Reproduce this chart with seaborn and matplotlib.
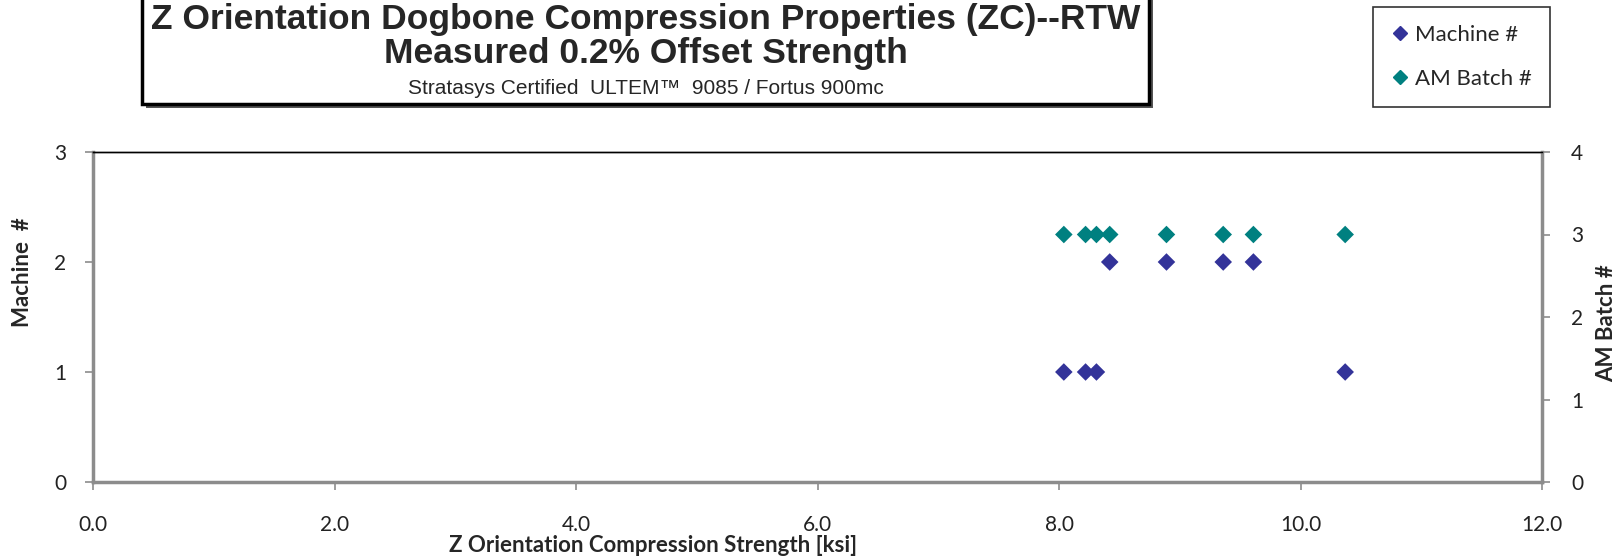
import matplotlib
matplotlib.use("Agg")
import matplotlib.pyplot as plt
from matplotlib.patches import Rectangle
from matplotlib.lines import Line2D
import seaborn as sns
import pandas as pd

# Compression strength [ksi] per specimen with its machine and batch identifiers
strength_ksi = [8.04, 8.22, 8.31, 10.37, 8.42, 8.89, 9.36, 9.61]
machine_no = [1, 1, 1, 1, 2, 2, 2, 2]
batch_strength_ksi = [8.04, 8.22, 8.31, 8.42, 8.89, 9.36, 9.61, 10.37]
batch_no = [3, 3, 3, 3, 3, 3, 3, 3]

x_ticks = [0, 2, 4, 6, 8, 10, 12]
left_ticks = [0, 1, 2, 3]
right_ticks = [0, 1, 2, 3, 4]

machine_color = "#333399"
batch_color = "#008080"
axis_gray = "#8c8c8c"

sns.set_theme(style="white")
plt.rcParams["font.family"] = ["Liberation Sans Narrow", "Liberation Sans", "DejaVu Sans"]

df_m = pd.DataFrame({"strength": strength_ksi, "machine": machine_no})
df_b = pd.DataFrame({"strength": batch_strength_ksi, "batch": batch_no})

W, H = 1619, 560
ax_l, ax_r, ax_t, ax_b = 93, 1542, 152, 482
fig = plt.figure(figsize=(W / 100, H / 100), dpi=100)
ax = fig.add_axes([ax_l / W, 1 - ax_b / H, (ax_r - ax_l) / W, (ax_b - ax_t) / H])
ax2 = ax.twinx()

sns.scatterplot(data=df_m, x="strength", y="machine", ax=ax, marker="D", s=80,
                color=machine_color, edgecolor="none", legend=False, zorder=3)
sns.scatterplot(data=df_b, x="strength", y="batch", ax=ax2, marker="D", s=80,
                color=batch_color, edgecolor="none", legend=False, zorder=3)

ax.set_xlim(0, 12)
ax.set_ylim(0, 3)
ax2.set_ylim(0, 4)
ax.set_xticks(x_ticks)
ax.set_xticklabels([f"{v:.1f}" for v in x_ticks])
ax.set_yticks(left_ticks)
ax2.set_yticks(right_ticks)

for a in (ax, ax2):
    a.grid(False)
    a.set_facecolor("none")
    for side in ("left", "right", "bottom"):
        a.spines[side].set_color(axis_gray)
        a.spines[side].set_linewidth(2.5)
    a.spines["top"].set_color("black")
    a.spines["top"].set_linewidth(1.0)
ax.spines["right"].set_visible(False)
ax2.spines["left"].set_visible(False)
ax2.spines["bottom"].set_visible(False)

tick_kw = dict(direction="out", length=6, width=1.2, color=axis_gray,
               labelsize=15, labelcolor="#222222", labelfontfamily="Lato")
ax.tick_params(axis="x", bottom=True, pad=18, **tick_kw)
ax.tick_params(axis="y", left=True, pad=13, **tick_kw)
ax2.tick_params(axis="y", right=True, left=False, labelright=True, labelleft=False, **tick_kw)
ax2.yaxis.set_tick_params(which="major", pad=15)
for tk in ax2.yaxis.get_major_ticks():
    tk.set_pad(15)

label_font = {"family": ["Lato", "DejaVu Sans"], "size": 16, "weight": "bold"}
ax.set_xlabel("Z Orientation Compression Strength [ksi]", fontdict=label_font)
ax.set_ylabel("Machine  #", fontdict=label_font)
ax2.set_ylabel("AM Batch #", fontdict=label_font)
span_w, span_h = ax_r - ax_l, ax_b - ax_t
ax.xaxis.set_label_coords((653 - ax_l) / span_w, -(535 - ax_b) / span_h)
ax.yaxis.set_label_coords((33 - ax_l) / span_w, (ax_b - 272) / span_h)
ax2.yaxis.set_label_coords((1596 - ax_l) / span_w, (ax_b - 323) / span_h)

# Title box with drop shadow, running off the top edge
bx0, bx1, by1 = 142, 1149, 104
fig.patches.append(Rectangle(((bx0 + 4) / W, 1 - (by1 + 4) / H), (bx1 - bx0) / W, (by1 + 20) / H,
                             transform=fig.transFigure, facecolor="#555555", edgecolor="none", zorder=1))
fig.patches.append(Rectangle((bx0 / W, 1 - by1 / H), (bx1 - bx0) / W, (by1 + 20) / H,
                             transform=fig.transFigure, facecolor="white", edgecolor="black",
                             linewidth=2.5, zorder=2))
cx = (bx0 + bx1) / 2 / W
fig.text(cx, 1 - 19 / H, "Z Orientation Dogbone Compression Properties (ZC)--RTW",
         ha="center", va="center", fontsize=25.5, fontweight="bold", zorder=3)
fig.text(cx, 1 - 54 / H, "Measured 0.2% Offset Strength",
         ha="center", va="center", fontsize=25.5, fontweight="bold", zorder=3)
fig.text(cx, 1 - 89 / H, "Stratasys Certified  ULTEM\u2122  9085 / Fortus 900mc",
         ha="center", va="center", fontsize=15, zorder=3)

# Legend box
handles = [Line2D([], [], marker="D", linestyle="none", color=machine_color, markersize=7),
           Line2D([], [], marker="D", linestyle="none", color=batch_color, markersize=7)]
leg = fig.legend(handles, ["Machine #", "AM Batch #"], loc="upper left",
                 bbox_to_anchor=(1373 / W, 1 - 7 / H), frameon=True, fancybox=False,
                 prop={"family": ["Lato", "DejaVu Sans"], "size": 16},
                 handlelength=0.8, handletextpad=0.3, labelspacing=1.1,
                 borderpad=0.8, borderaxespad=0)
leg.get_frame().set_edgecolor("black")
leg.get_frame().set_linewidth(1.2)

fig.savefig("out.png", dpi=100)
